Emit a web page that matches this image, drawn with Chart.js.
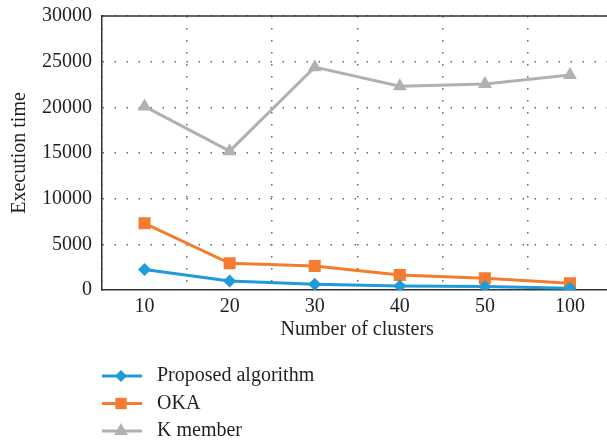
<!DOCTYPE html>
<html>
<head>
<meta charset="utf-8">
<script src="https://cdn.jsdelivr.net/npm/chart.js@4"></script>
<style>
  html, body { margin: 0; padding: 0; background: #fff; overflow: hidden; }
  #wrap { width: 621px; height: 444px; }
</style>
</head>
<body>
<div id="wrap"><canvas id="chart" width="621" height="444"></canvas></div>
<script>
const clusters = ['10', '20', '30', '40', '50', '100'];
const proposedAlgorithm = [2250, 980, 620, 440, 370, 180];
const okaTimes = [7300, 2920, 2630, 1640, 1280, 730];
const kMemberTimes = [20100, 15200, 24400, 22300, 22550, 23550];
const yTicks = [0, 5000, 10000, 15000, 20000, 25000, 30000];

const FONT = "'Liberation Serif', 'DejaVu Serif', serif";
const TEXT = '#231f20';

// top frame line + vertical legend under the axis
const framePlugin = {
    id: 'frame',
    afterDraw(chart) {
        const {ctx, chartArea} = chart;
        ctx.save();
        ctx.strokeStyle = '#333';
        ctx.lineWidth = 1.5;
        ctx.beginPath();
        ctx.moveTo(chartArea.left, chartArea.top);
        ctx.lineTo(chartArea.right, chartArea.top);
        ctx.stroke();

        ctx.font = `20px ${FONT}`;
        ctx.textBaseline = 'middle';
        ctx.fillStyle = TEXT;
        chart.data.datasets.forEach((ds, i) => {
            const y = 376 + i * 27.5;
            ctx.strokeStyle = ds.borderColor;
            ctx.lineWidth = 3;
            ctx.beginPath();
            ctx.moveTo(102, y);
            ctx.lineTo(142, y);
            ctx.stroke();
            ctx.fillStyle = ds.backgroundColor;
            Chart.helpers.drawPoint(ctx, {
                pointStyle: ds.pointStyle,
                radius: ds.legendRadius,
                rotation: 0,
                borderWidth: 0
            }, 121, y);
            ctx.fillStyle = TEXT;
            ctx.fillText(ds.label, 157, y);
        });
        ctx.restore();
    }
};

new Chart(document.getElementById('chart'), {
    type: 'line',
    data: {
        labels: clusters,
        datasets: [
            {
                label: 'Proposed algorithm',
                data: proposedAlgorithm,
                borderColor: '#1f9bd7',
                backgroundColor: '#1f9bd7',
                pointStyle: 'rectRot',
                pointRadius: 6.5,
                legendRadius: 6,
                borderWidth: 3,
                pointBorderWidth: 0,
                order: 1
            },
            {
                label: 'OKA',
                data: okaTimes,
                borderColor: '#f47c30',
                backgroundColor: '#f47c30',
                pointStyle: 'rect',
                pointRadius: 8.5,
                legendRadius: 8,
                borderWidth: 3,
                pointBorderWidth: 0,
                order: 2
            },
            {
                label: 'K member',
                data: kMemberTimes,
                borderColor: '#b1b1b4',
                backgroundColor: '#b1b1b4',
                pointStyle: 'triangle',
                pointRadius: 8,
                legendRadius: 8,
                borderWidth: 3,
                pointBorderWidth: 0,
                order: 3
            }
        ]
    },
    options: {
        responsive: false,
        animation: false,
        layout: {
            padding: {left: 0, right: 0, top: 16, bottom: 100}
        },
        plugins: {
            legend: {display: false},
            tooltip: {enabled: false}
        },
        scales: {
            x: {
                offset: true,
                grid: {
                    offset: true,
                    drawTicks: false,
                    color: '#666',
                    lineWidth: 1.5
                },
                border: {
                    display: true,
                    color: '#333',
                    width: 1.5,
                    dash: [1.5, 10.5]
                },
                ticks: {
                    color: TEXT,
                    font: {family: FONT, size: 20},
                    padding: 5,
                    maxRotation: 0
                },
                title: {
                    display: true,
                    text: 'Number of clusters',
                    color: TEXT,
                    font: {family: FONT, size: 20},
                    padding: {top: 2, bottom: 2}
                },
                afterFit: (s) => { s.height = 54; }
            },
            y: {
                min: 0,
                max: 30000,
                afterBuildTicks: (s) => { s.ticks = yTicks.map(v => ({value: v})); },
                grid: {
                    drawTicks: false,
                    color: (c) => (c.tick && c.tick.value === 0 ? 'rgba(0,0,0,0)' : '#666'),
                    lineWidth: 1.5
                },
                border: {
                    display: true,
                    color: '#333',
                    width: 1.5,
                    dash: [1.5, 10.5]
                },
                ticks: {
                    color: TEXT,
                    font: {family: FONT, size: 20},
                    padding: 10,
                    callback: (v) => String(v)
                },
                title: {
                    display: true,
                    text: 'Execution time',
                    color: TEXT,
                    font: {family: FONT, size: 20},
                    padding: {top: 8, bottom: 4}
                },
                afterFit: (s) => {
                    s.width = 102;
                    s.paddingTop = 0;
                    s.paddingBottom = 0;
                }
            }
        }
    },
    plugins: [framePlugin]
});
</script>
</body>
</html>
